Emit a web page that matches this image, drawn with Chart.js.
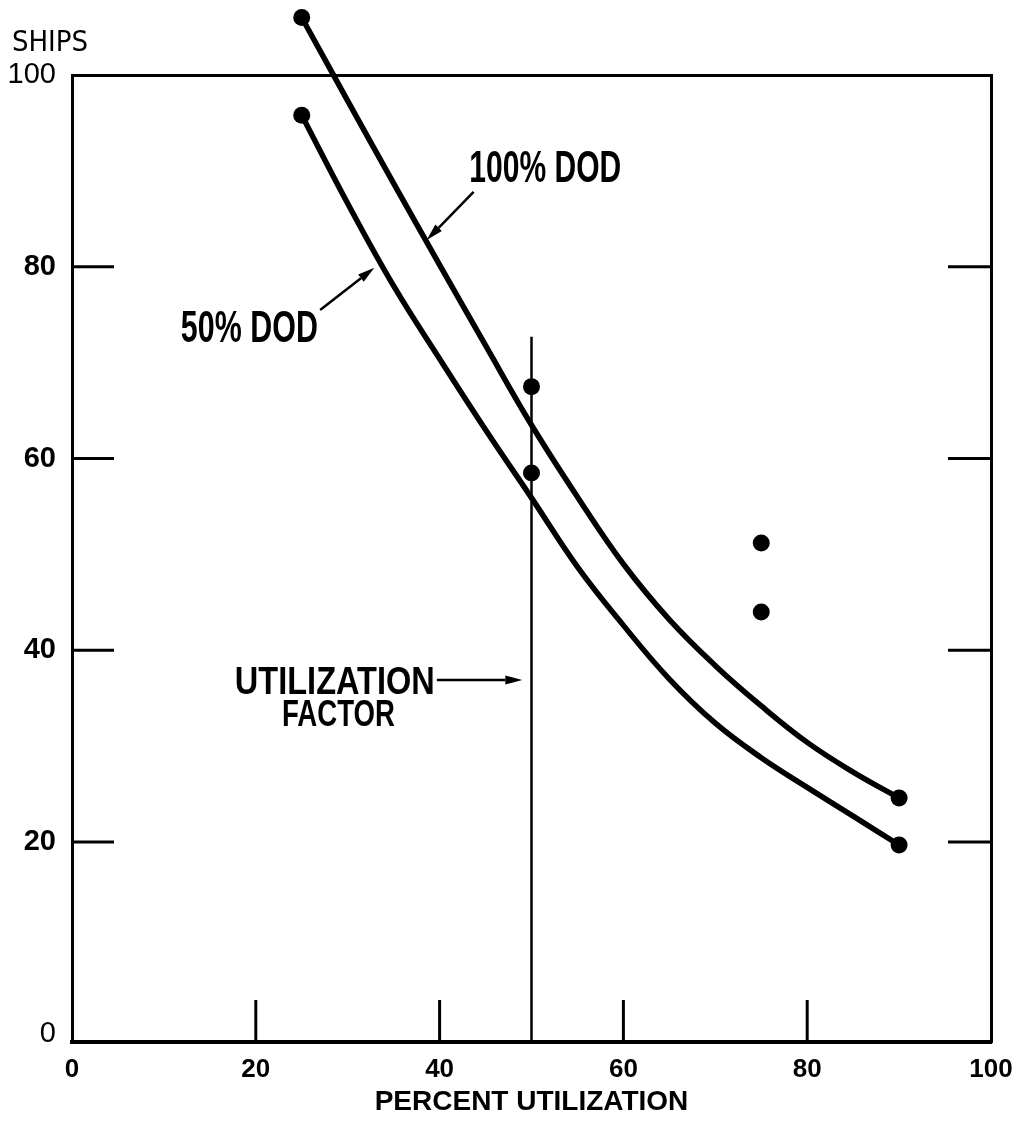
<!DOCTYPE html>
<html><head><meta charset="utf-8">
<script src="https://cdn.jsdelivr.net/npm/chart.js@4"></script>
<style>html,body{margin:0;padding:0;background:#fff}#wrap{width:1017px;height:1121px}</style>
</head><body><div id="wrap"><canvas id="c" width="1017" height="1121"></canvas></div>
<script>
// ---- data ----
const curveX    = [25, 30, 35, 40, 45, 50, 55, 60, 65, 70, 75, 80, 85, 90];
const curve100Y = [106, 97.3, 88.7, 80.2, 71.8, 63.5, 56.0, 49.0, 43.2, 38.4, 34.2, 30.4, 27.3, 24.6];
const curve50Y  = [95.8, 86.6, 78.0, 70.4, 63.0, 55.9, 48.7, 42.6, 37.0, 32.4, 28.8, 25.7, 22.7, 19.7];
const obsX      = [50, 75];
const obs100Y   = [67.5, 51.2];
const obs50Y    = [58.5, 44.0];
const utilX     = [50, 50];
const utilY     = [-0.85, 72.7];
const xTicks    = [0, 20, 40, 60, 80, 100];
const yTicks    = [0, 20, 40, 60, 80, 100];
const innerTicks = [20, 40, 60, 80];
const labels = { y: 'SHIPS', x: 'PERCENT UTILIZATION', c100: '100% DOD', c50: '50% DOD', util1: 'UTILIZATION', util2: 'FACTOR' };

const FAM = "'Liberation Sans Narrow','DejaVu Sans Condensed','Liberation Sans',sans-serif";
const SANS = "'Liberation Sans','DejaVu Sans',sans-serif";
const pts = (xs, ys) => xs.map((x, i) => ({x, y: ys[i]}));

// annotation layout (data coordinates)
const notes = [
  {text: labels.c100, x: 51.5, y: 90.5, w: 152, size: 44, weight: 'bold'},
  {text: labels.c50,  x: 19.3, y: 73.8, w: 137, size: 44, weight: 'bold'},
  {text: labels.util1, x: 28.6, y: 36.9, w: 200, size: 39, weight: 'bold'},
  {text: labels.util2, x: 29.0, y: 33.5, w: 113, size: 36, weight: 'bold'}
];
const arrows = [
  {from: [43.7, 87.8], to: [38.6, 82.8]},
  {from: [27.0, 75.5], to: [32.9, 79.9]},
  {from: [39.7, 36.9], to: [49.0, 36.9]}
];
const DOT = 8.5;

const deco = {
  id: 'deco',
  afterDatasetsDraw(chart) {
    const {ctx, chartArea: a} = chart;
    const xs = chart.scales.x, ys = chart.scales.y;
    ctx.save();
    ctx.strokeStyle = '#000'; ctx.fillStyle = '#000'; ctx.lineCap = 'butt';
    // curve end dots lying outside the plot frame (library skips them)
    [0, 1].forEach(i => {
      const els = chart.getDatasetMeta(i).data;
      [els[0], els[els.length - 1]].forEach(p => {
        if (p.y < a.top || p.y > a.bottom || p.x < a.left || p.x > a.right) {
          ctx.beginPath(); ctx.arc(p.x, p.y, DOT, 0, Math.PI * 2); ctx.fill();
        }
      });
    });
    // inward tick marks
    ctx.lineWidth = 3;
    innerTicks.forEach(v => {
      const py = ys.getPixelForValue(v);
      ctx.beginPath(); ctx.moveTo(a.left, py); ctx.lineTo(a.left + 42, py); ctx.stroke();
      ctx.beginPath(); ctx.moveTo(a.right - 43, py); ctx.lineTo(a.right, py); ctx.stroke();
      const px = xs.getPixelForValue(v);
      ctx.beginPath(); ctx.moveTo(px, a.bottom); ctx.lineTo(px, a.bottom - 42); ctx.stroke();
    });
    // texts
    notes.forEach(n => {
      const px = xs.getPixelForValue(n.x), py = ys.getPixelForValue(n.y);
      ctx.font = n.weight + ' ' + n.size + 'px ' + SANS;
      const w = ctx.measureText(n.text).width;
      ctx.save();
      ctx.translate(px, py + n.size * 0.716 / 2);
      ctx.scale(n.w / w, 1);
      ctx.textAlign = 'center'; ctx.textBaseline = 'alphabetic';
      ctx.fillText(n.text, 0, 0);
      ctx.restore();
    });
    // arrows
    ctx.lineWidth = 2.5;
    arrows.forEach(r => {
      const x1 = xs.getPixelForValue(r.from[0]), y1 = ys.getPixelForValue(r.from[1]);
      const x2 = xs.getPixelForValue(r.to[0]), y2 = ys.getPixelForValue(r.to[1]);
      const ang = Math.atan2(y2 - y1, x2 - x1), L = 17, W = 4.5;
      ctx.beginPath(); ctx.moveTo(x1, y1);
      ctx.lineTo(x2 - L * Math.cos(ang), y2 - L * Math.sin(ang)); ctx.stroke();
      ctx.beginPath();
      ctx.moveTo(x2, y2);
      ctx.lineTo(x2 - L * Math.cos(ang) + W * Math.sin(ang), y2 - L * Math.sin(ang) - W * Math.cos(ang));
      ctx.lineTo(x2 - L * Math.cos(ang) - W * Math.sin(ang), y2 - L * Math.sin(ang) + W * Math.cos(ang));
      ctx.closePath(); ctx.fill();
    });
    // y axis title
    ctx.font = 'normal 29px ' + FAM;
    ctx.textAlign = 'center'; ctx.textBaseline = 'middle';
    ctx.fillText(labels.y, a.left - 22, a.top - 32);
    ctx.restore();
  }
};

const endDots = c => (c.dataIndex === 0 || c.dataIndex === c.dataset.data.length - 1) ? DOT : 0;

new Chart(document.getElementById('c'), {
  type: 'scatter',
  data: {
    datasets: [
      {type: 'line', data: pts(curveX, curve100Y), borderColor: '#000', borderWidth: 5.5,
       tension: 0.4, pointRadius: endDots, pointBackgroundColor: '#000',
       pointBorderWidth: 0, clip: false, fill: false},
      {type: 'line', data: pts(curveX, curve50Y), borderColor: '#000', borderWidth: 5.5,
       tension: 0.4, pointRadius: endDots, pointBackgroundColor: '#000',
       pointBorderWidth: 0, clip: false, fill: false},
      {type: 'line', data: pts(utilX, utilY), borderColor: '#000', borderWidth: 2.5, pointRadius: 0, clip: false},
      {type: 'scatter', data: pts(obsX, obs100Y), pointRadius: DOT, pointBackgroundColor: '#000', pointBorderWidth: 0, clip: false},
      {type: 'scatter', data: pts(obsX, obs50Y), pointRadius: DOT, pointBackgroundColor: '#000', pointBorderWidth: 0, clip: false}
    ]
  },
  options: {
    responsive: false, animation: false, devicePixelRatio: 1,
    layout: {padding: {left: 0, right: 26, top: 75, bottom: 0}},
    plugins: {legend: {display: false}, tooltip: {enabled: false}},
    scales: {
      x: {
        type: 'linear', position: 'bottom', min: 0, max: 100,
        afterBuildTicks: s => { s.ticks = xTicks.map(v => ({value: v})); },
        afterFit: s => { s.height = 79; s.paddingLeft = 0; s.paddingRight = 0; },
        grid: {drawOnChartArea: false, drawTicks: false},
        border: {display: true, width: 4, color: '#000'},
        ticks: {padding: 12, color: '#000', font: {family: SANS, size: 26, weight: 'bold'}},
        title: {display: true, text: labels.x, color: '#000', padding: {top: 0, bottom: 2},
                font: {family: SANS, size: 28, weight: 'bold'}}
      },
      y: {
        type: 'linear', position: 'left', min: -0.85, max: 100,
        afterBuildTicks: s => { s.ticks = yTicks.map(v => ({value: v})); },
        afterFit: s => { s.width = 72; s.paddingTop = 0; s.paddingBottom = 0; },
        grid: {drawOnChartArea: false, drawTicks: false},
        border: {display: true, width: 3, color: '#000'},
        ticks: {padding: 16, color: '#000',
                font: c => ({family: SANS, size: 29, weight: (c.tick && (c.tick.value === 0 || c.tick.value === 100)) ? 'normal' : 'bold'})}
      },
      x2: {
        type: 'linear', position: 'top', min: 0, max: 100,
        afterFit: s => { s.height = 0; s.paddingLeft = 0; s.paddingRight = 0; },
        grid: {drawOnChartArea: false, drawTicks: false},
        border: {display: true, width: 3, color: '#000'},
        ticks: {display: false}
      },
      y2: {
        type: 'linear', position: 'right', min: -0.85, max: 100,
        afterFit: s => { s.width = 0; s.paddingTop = 0; s.paddingBottom = 0; },
        grid: {drawOnChartArea: false, drawTicks: false},
        border: {display: true, width: 3, color: '#000'},
        ticks: {display: false}
      }
    }
  },
  plugins: [deco]
});
</script>
</body></html>
